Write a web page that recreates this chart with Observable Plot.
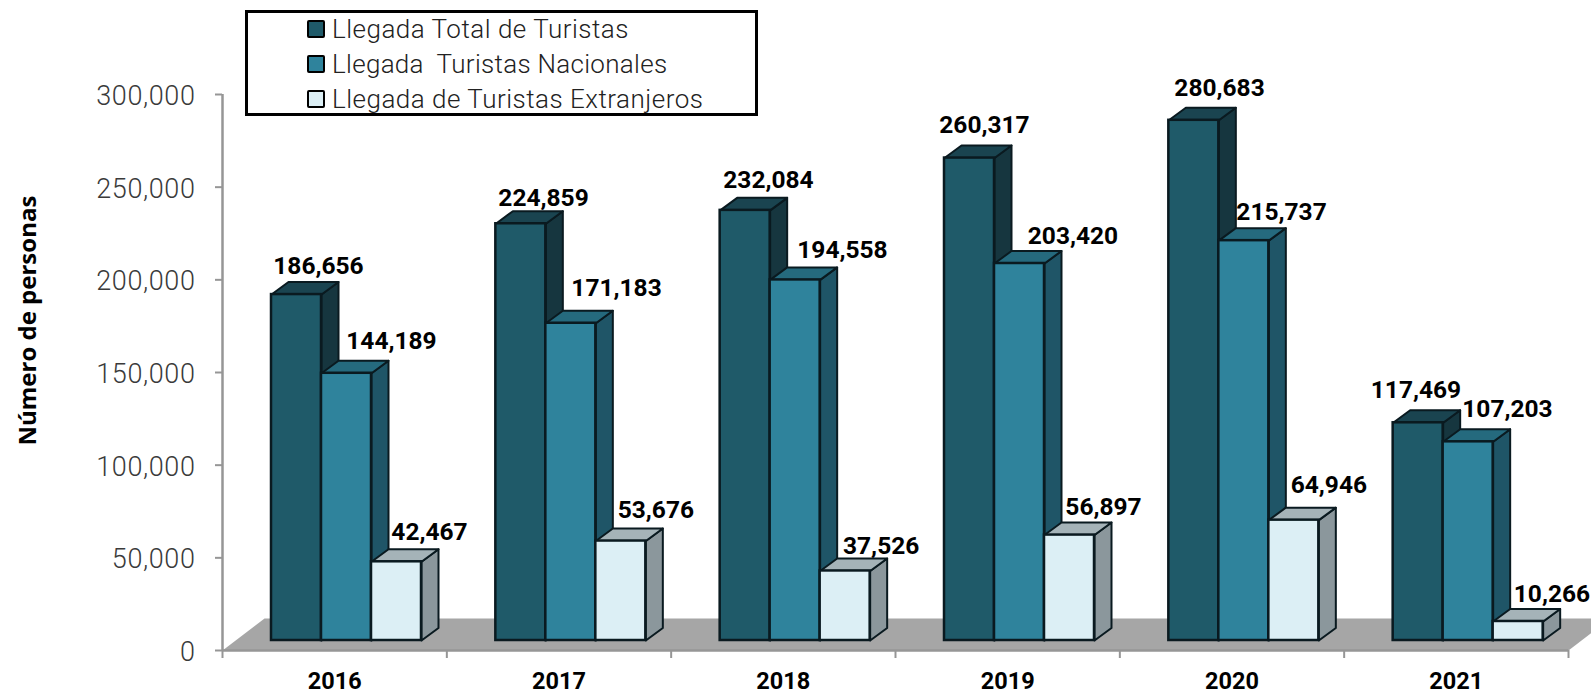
<!DOCTYPE html>
<html>
<head>
<meta charset="utf-8">
<script src="https://cdn.jsdelivr.net/npm/d3@7"></script>
<script src="https://cdn.jsdelivr.net/npm/@observablehq/plot@0.6"></script>
<style>
  html, body { margin: 0; padding: 0; background: #fff; overflow: hidden; width: 1591px; height: 699px; }
  #wrap { position: relative; width: 1591px; height: 699px; overflow: hidden; }
  #wrap svg { display: block; overflow: hidden; }
  #wrap svg g[aria-label="y-axis tick label"] { letter-spacing: 0.6px; }
  #legend { position: absolute; left: 245px; top: 10px; width: 507px; height: 100px; border: 3px solid #000; background: #fff; font: 300 26px Roboto, sans-serif; letter-spacing: 0.5px; color: #222; }
  #legend .row { position: absolute; left: 59px; height: 18px; display: flex; align-items: center; white-space: pre; }
  #legend .row:nth-child(2) { letter-spacing: 0.3px; }
  #legend .sw { width: 14px; height: 14px; border: 2px solid #000; border-radius: 2px; margin-right: 7px; flex: none; }
</style>
</head>
<body>
<div id="wrap"></div>
<script>
// ---- data ----
const years = ["2016", "2017", "2018", "2019", "2020", "2021"];
const total = [186656, 224859, 232084, 260317, 280683, 117469];
const nacionales = [144189, 171183, 194558, 203420, 215737, 107203];
const extranjeros = [42467, 53676, 37526, 56897, 64946, 10266];
const seriesNames = ["Llegada Total de Turistas", "Llegada  Turistas Nacionales", "Llegada de Turistas Extranjeros"];
const yTicks = [0, 50000, 100000, 150000, 200000, 250000, 300000];

// ---- layout (separate from the data) ----
const W = 1591, H = 699;
const ML = 222, MR = 23, MT = 94, MB = 49;
const pxX = (W - ML - MR) / 6, pxY = (H - MT - MB) / 300000;
const barStart = 49 / pxX, barW = 50 / pxX;
const depthX = 17 / pxX, depthY = 12.5 / pxY;
const floorY = 10 / pxY;                      // bars stand on the floor, above the axis
const floorDX = 42 / pxX, floorDY = 32 / pxY;
const palette = {
  front0: "#1f5a69", side0: "#16363f", top0: "#1a4450",
  front1: "#2f839c", side1: "#1f5567", top1: "#256a7e",
  front2: "#dceff5", side2: "#8b979c", top2: "#a5b3b8"
};
const edge = "#0a1a20";
// hand placed data labels: px offset from the centre of each bar's top
const labelDX = [
  [22, 22.7, 23.3, 15, 25.7, -2.2],
  [45, 45.7, 47.3, 53.5, 37.7, 39.3],
  [33, 35, 36, 34, 35, 33.8]
];
const labelDY = [
  [-28, -26, -30, -33, -32, -33],
  [-32, -35, -30, -27, -29, -33],
  [-30, -31, -25, -28, -35, -27]
];

const allSeries = [total, nacionales, extranjeros];

const floorPts = [
  [0, 0], [floorDX, floorDY], [6 + floorDX, floorDY], [6, 0], [0, 0]
].map(([x, y]) => ({x, y}));

function bars(s) {
  return allSeries[s].map((v, i) => {
    const x1 = i + barStart + s * barW;
    return {v, i, s, x1, x2: x1 + barW, y1: floorY, y2: floorY + v, face: "front" + s};
  });
}
function faces(s) {
  const pts = [];
  for (const b of bars(s)) {
    const side = [[b.x2, b.y1], [b.x2 + depthX, b.y1 + depthY], [b.x2 + depthX, b.y2 + depthY], [b.x2, b.y2], [b.x2, b.y1]];
    const top = [[b.x1, b.y2], [b.x1 + depthX, b.y2 + depthY], [b.x2 + depthX, b.y2 + depthY], [b.x2, b.y2], [b.x1, b.y2]];
    side.forEach(([x, y]) => pts.push({x, y, id: `side-${s}-${b.i}`, face: "side" + s}));
    top.forEach(([x, y]) => pts.push({x, y, id: `top-${s}-${b.i}`, face: "top" + s}));
  }
  return pts;
}
const labels = allSeries.flatMap((vals, s) => bars(s).map(b => ({
  x: (b.x1 + b.x2) / 2 + labelDX[s][b.i] / pxX,
  y: b.y2 + -labelDY[s][b.i] / pxY,
  text: d3.format(",")(b.v)
})));

const gray = "#969696";
const chart = Plot.plot({
  width: W, height: H,
  marginLeft: ML, marginRight: MR, marginTop: MT, marginBottom: MB,
  x: {domain: [0, 6], axis: null},
  y: {domain: [0, 300000], axis: null},
  color: {domain: Object.keys(palette), range: Object.values(palette)},
  style: {background: "#fff", overflow: "hidden"},
  marks: [
    Plot.line(floorPts, {x: "x", y: "y", fill: "#a6a6a6", stroke: "none"}),
    Plot.ruleY([0], {x1: 0, x2: 6, stroke: gray, strokeWidth: 2.5, strokeOpacity: 1}),
    Plot.ruleX([0], {y1: 0, y2: 300000, stroke: gray, strokeWidth: 2.5, strokeOpacity: 1}),
    Plot.axisY({
      ticks: yTicks, tickSize: 7, tickFormat: () => "", label: null,
      stroke: gray, strokeWidth: 2, strokeOpacity: 1
    }),
    Plot.axisY({
      ticks: yTicks, tickSize: 0, tickPadding: 27, dy: 2, tickFormat: d3.format(","), label: null,
      fill: "#3a3a3a", fontSize: 27, fontWeight: 300, fontFamily: "Roboto"
    }),
    Plot.axisX({
      ticks: d3.range(0, 7), tickSize: 8, tickFormat: () => "", label: null,
      stroke: gray, strokeWidth: 2, strokeOpacity: 1
    }),
    Plot.axisX({
      ticks: years.map((_, i) => i + 0.5), tickSize: 0, tickPadding: 22,
      tickFormat: d => years[d - 0.5], label: null, fill: "#000",
      fontSize: 23.5, fontWeight: 700, fontFamily: "Roboto"
    }),
    ...[0, 1, 2].flatMap(s => [
      Plot.line(faces(s), {x: "x", y: "y", z: "id", fill: "face", stroke: edge, strokeWidth: 2, strokeLinejoin: "round"}),
      Plot.rect(bars(s), {x1: "x1", x2: "x2", y1: "y1", y2: "y2", fill: "face", stroke: edge, strokeWidth: 2.5})
    ]),
    Plot.text(labels, {
      x: "x", y: "y", text: "text", fill: "#000",
      fontSize: 24.5, fontWeight: 700, fontFamily: "Roboto", textAnchor: "middle", lineAnchor: "middle"
    }),
    Plot.text(["Número de personas"], {
      y: 178000, frameAnchor: "left", dx: -194, rotate: -90, textAnchor: "middle",
      fontSize: 24, fontWeight: 700, fontFamily: "Open Sans", fill: "#000"
    })
  ]
});
const wrap = document.getElementById("wrap");
wrap.appendChild(chart);

const legend = document.createElement("div");
legend.id = "legend";
seriesNames.forEach((name, s) => {
  const row = document.createElement("div");
  row.className = "row";
  row.style.top = (7 + s * 35) + "px";
  const sw = document.createElement("span");
  sw.className = "sw";
  sw.style.background = palette["front" + s];
  const t = document.createElement("span");
  t.textContent = name;
  row.append(sw, t);
  legend.appendChild(row);
});
wrap.appendChild(legend);
</script>
</body>
</html>
